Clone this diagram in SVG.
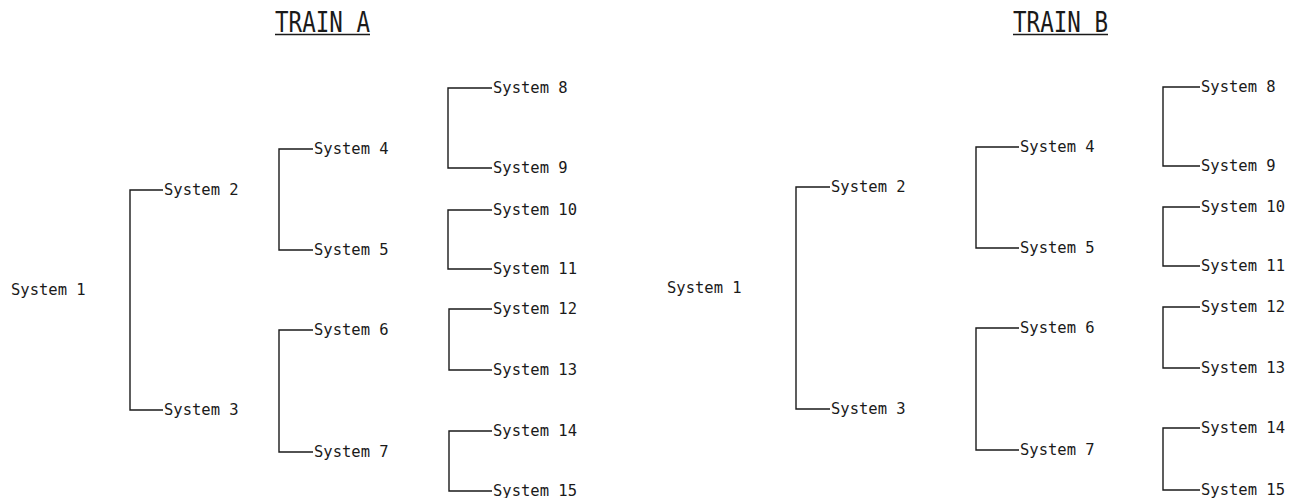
<svg xmlns="http://www.w3.org/2000/svg" width="1292" height="498" viewBox="0 0 1292 498">
<style>
.lbl{font-family:"DejaVu Sans Mono","Liberation Mono",monospace;font-size:15.5px;fill:#1a1a1a}
.ttl{font-family:"DejaVu Sans Mono","Liberation Mono",monospace;font-size:28px;font-weight:300;fill:#1a1a1a}
.c{fill:none;stroke:#1a1a1a;stroke-width:1.4}
.u{stroke:#1a1a1a;stroke-width:1.6}
</style>
<rect width="1292" height="498" fill="#ffffff"/>
<g id="title-a"><text class="ttl" x="275" y="32" textLength="95" lengthAdjust="spacingAndGlyphs">TRAIN A</text><line class="u" x1="275" y1="34.5" x2="370" y2="34.5"/></g>
<g id="title-b"><text class="ttl" x="1013" y="32" textLength="95" lengthAdjust="spacingAndGlyphs">TRAIN B</text><line class="u" x1="1013" y1="34.5" x2="1108" y2="34.5"/></g>
<g id="connectors">
<path class="c" d="M163 190H130V410H163"/>
<path class="c" d="M313 149H279V250H313"/>
<path class="c" d="M313 330H279V452H313"/>
<path class="c" d="M492 88H448V168H492"/>
<path class="c" d="M492 210H448V269H492"/>
<path class="c" d="M492 309H449V370H492"/>
<path class="c" d="M492 431H449V491H492"/>
<path class="c" d="M830 187H796V409H830"/>
<path class="c" d="M1019 147H976V248H1019"/>
<path class="c" d="M1019 328H976V450H1019"/>
<path class="c" d="M1200 87H1163V166H1200"/>
<path class="c" d="M1200 207H1163V266H1200"/>
<path class="c" d="M1200 307H1163V368H1200"/>
<path class="c" d="M1200 428H1163V490H1200"/>
</g>
<g id="a-s1"><text class="lbl" x="11" y="295">System 1</text></g>
<g id="a-s2"><text class="lbl" x="164" y="194.5">System 2</text></g>
<g id="a-s3"><text class="lbl" x="164" y="414.5">System 3</text></g>
<g id="a-s4"><text class="lbl" x="314" y="153.5">System 4</text></g>
<g id="a-s5"><text class="lbl" x="314" y="254.5">System 5</text></g>
<g id="a-s6"><text class="lbl" x="314" y="334.5">System 6</text></g>
<g id="a-s7"><text class="lbl" x="314" y="456.5">System 7</text></g>
<g id="a-s8"><text class="lbl" x="493" y="92.5">System 8</text></g>
<g id="a-s9"><text class="lbl" x="493" y="172.5">System 9</text></g>
<g id="a-s10"><text class="lbl" x="493" y="214.5">System 10</text></g>
<g id="a-s11"><text class="lbl" x="493" y="273.5">System 11</text></g>
<g id="a-s12"><text class="lbl" x="493" y="313.5">System 12</text></g>
<g id="a-s13"><text class="lbl" x="493" y="374.5">System 13</text></g>
<g id="a-s14"><text class="lbl" x="493" y="435.5">System 14</text></g>
<g id="a-s15"><text class="lbl" x="493" y="495.5">System 15</text></g>
<g id="b-s1"><text class="lbl" x="667" y="293">System 1</text></g>
<g id="b-s2"><text class="lbl" x="831" y="191.5">System 2</text></g>
<g id="b-s3"><text class="lbl" x="831" y="413.5">System 3</text></g>
<g id="b-s4"><text class="lbl" x="1020" y="151.5">System 4</text></g>
<g id="b-s5"><text class="lbl" x="1020" y="252.5">System 5</text></g>
<g id="b-s6"><text class="lbl" x="1020" y="332.5">System 6</text></g>
<g id="b-s7"><text class="lbl" x="1020" y="454.5">System 7</text></g>
<g id="b-s8"><text class="lbl" x="1201" y="91.5">System 8</text></g>
<g id="b-s9"><text class="lbl" x="1201" y="170.5">System 9</text></g>
<g id="b-s10"><text class="lbl" x="1201" y="211.5">System 10</text></g>
<g id="b-s11"><text class="lbl" x="1201" y="270.5">System 11</text></g>
<g id="b-s12"><text class="lbl" x="1201" y="311.5">System 12</text></g>
<g id="b-s13"><text class="lbl" x="1201" y="372.5">System 13</text></g>
<g id="b-s14"><text class="lbl" x="1201" y="432.5">System 14</text></g>
<g id="b-s15"><text class="lbl" x="1201" y="494.5">System 15</text></g>
</svg>
